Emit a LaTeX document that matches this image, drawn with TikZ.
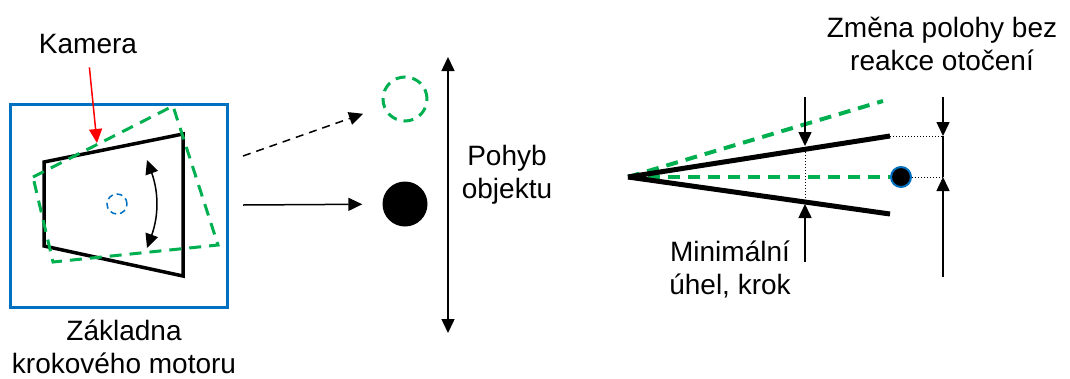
\documentclass[tikz,border=0pt]{standalone}
\usepackage{fontspec}
\setmainfont{Liberation Sans}
\usepackage{tikz}
\usetikzlibrary{arrows.meta}
\definecolor{camgreen}{RGB}{0,176,80}
\definecolor{baseblue}{RGB}{0,112,192}

\begin{document}
\begin{tikzpicture}[x=1pt, y=-1pt,
  tip/.style={-{Triangle[length=14pt,width=13pt]}},
  twotip/.style={{Triangle[length=14pt,width=13pt]}-{Triangle[length=14pt,width=13pt]}},
  lbl/.style={font=\fontsize{28}{33}\selectfont, align=center, inner sep=0pt},
  gdash/.style={camgreen, dash pattern=on 12pt off 8pt}]
 \useasboundingbox (0,0) rectangle (1070,378);

 % motor base with the camera on it
 \node (base) [draw=baseblue, line width=3pt, minimum width=217pt, minimum height=203pt, inner sep=0pt] at (118.5,205.5) {};
 \draw[line width=3.5pt, line join=miter] (44,162) -- (183,134) -- (183,276) -- (44,246) -- cycle;
 \draw[gdash, line width=3pt] (33,177) -- (173,106) -- (218,245) -- (53,262) -- cycle;
 \node (axis) [circle, draw=baseblue, line width=1.5pt, dash pattern=on 6pt off 4pt, minimum size=20pt, inner sep=0pt] at (117,204) {};
 \coordinate (swing1) at (147,160);
 \coordinate (swing2) at (147,248);
 \draw[line width=1.5pt, twotip] (swing1) to[bend left=20] (swing2);
 \node (kamera) [lbl, anchor=base] at (88,53) {Kamera};
 \coordinate (camtop) at (97,143);
 \draw[red, line width=1.5pt, tip, shorten <=14pt] (kamera.south) -- (camtop);
 \node (zakl) [lbl, anchor=base] at (124,373) {Základna\\krokového motoru};

 % object in front of the camera
 \node (ghost) [circle, draw=camgreen, line width=3pt, dash pattern=on 10pt off 7pt, minimum size=44pt, inner sep=0pt] at (405,99) {};
 \node (obj) [circle, fill=black, minimum size=45pt, inner sep=0pt] at (405,204) {};
 \coordinate (ray1) at (243,156);
 \coordinate (ray2) at (243,205);
 \draw[line width=1.5pt, dash pattern=on 8pt off 6pt, tip, shorten >=21pt] (ray1) -- (ghost);
 \draw[line width=1.5pt, tip, shorten >=20pt] (ray2) -- (obj);
 \coordinate (mtop) at (448,57);
 \coordinate (mbot) at (448,333);
 \draw[line width=1.5pt, twotip] (mtop) -- (mbot);
 \node (pohyb) [lbl, anchor=base] at (507,198) {Pohyb\\objektu};

 % angle of one step
 \coordinate (apex) at (628,177);
 \coordinate (up) at (890,136);
 \coordinate (low) at (890,214);
 \coordinate (gup) at (883,101);
 \node (dot) [circle, fill=black, draw=baseblue, line width=2pt, minimum size=20pt, inner sep=0pt] at (901,177) {};
 \draw[gdash, line width=4pt] (apex) -- (gup);
 \draw[gdash, line width=4pt] (apex) -- (dot.west);
 \draw[line width=5pt] (apex) -- (up);
 \draw[line width=5pt] (apex) -- (low);

 \coordinate (stepup) at (805,149);
 \coordinate (steplow) at (805,202);
 \coordinate (stepin) at (805,97);
 \coordinate (stepout) at (805,262);
 \draw[line width=1pt, dotted] (stepup) -- (steplow);
 \draw[line width=1.5pt, tip, shorten >=3pt] (stepin) -- (stepup);
 \draw[line width=1.5pt, tip, shorten >=2pt] (stepout) -- (steplow);
 \node (minuhel) [lbl, anchor=base] at (730,294) {Minimální\\úhel, krok};

 \coordinate (shiftin) at (943,97);
 \coordinate (shiftup) at (943,136);
 \coordinate (shiftmid) at (943,177);
 \coordinate (shiftout) at (943,277);
 \draw[line width=1pt, dotted] (up) -- (shiftup);
 \draw[line width=1pt, dotted] (dot.east) -- (shiftmid);
 \draw[line width=1.5pt, tip] (shiftin) -- (shiftup);
 \draw[line width=1.5pt] (shiftup) -- (shiftmid);
 \draw[line width=1.5pt, tip] (shiftout) -- (shiftmid);
 \node (zmena) [lbl, anchor=base] at (942,70) {Změna polohy bez\\reakce otočení};
\end{tikzpicture}
\end{document}
